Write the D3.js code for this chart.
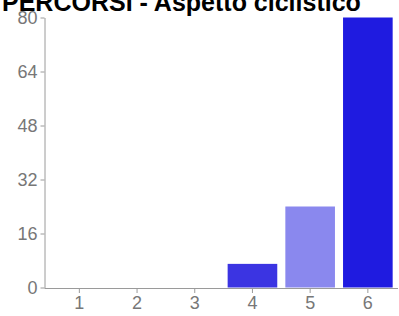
<!DOCTYPE html>
<html><head><meta charset="utf-8">
<script src="https://cdn.jsdelivr.net/npm/d3@7"></script>
<style>body{margin:0;background:#fff}svg{display:block}</style>
</head><body>
<script>
const categories = ["1","2","3","4","5","6"];
const values = [0,0,0,7,24,80];
const colors = ["#3b34e2","#3b34e2","#3b34e2","#3b34e2","#8a88ee","#1f1be0"];
const yTicks = [0,16,32,48,64,80];
const title = "PERCORSI - Aspetto ciclistico";

const W=399,H=316;
const svg=d3.select("body").append("svg").attr("width",W).attr("height",H);
const x=d3.scaleBand().domain(categories).range([50.5,396.7]).paddingInner(0.14).paddingOuter(0.07);
const y=d3.scaleLinear().domain([0,80]).range([287.5,17.5]);

svg.append("text").attr("x",2).attr("y",11).attr("font-family","Liberation Sans, Arial, sans-serif")
  .attr("font-weight","bold").attr("font-size",25).attr("fill","#000").text(title);

svg.selectAll("rect.bar").data(values).enter().append("rect").attr("class","bar")
  .attr("x",(d,i)=>x(categories[i])).attr("width",x.bandwidth())
  .attr("y",d=>y(d)).attr("height",d=>y(0)-y(d))
  .attr("fill",(d,i)=>colors[i]);

const axisColor="#9a9a9a", textColor="#777";
const ya=svg.append("g").attr("transform","translate(44.5,0)")
  .call(d3.axisLeft(y).tickValues(yTicks).tickSize(4).tickSizeOuter(0).tickPadding(3));
ya.select(".domain").attr("stroke",axisColor);
ya.selectAll(".tick line").attr("stroke",axisColor);
ya.selectAll("text").attr("fill",textColor).attr("font-size",18).attr("font-family","Liberation Sans, Arial, sans-serif");

const xa=svg.append("g").attr("transform","translate(0,288)")
  .call(d3.axisBottom(x).tickSize(5).tickSizeOuter(0).tickPadding(3));
xa.select(".domain").remove();
xa.append("line").attr("x1",44.5).attr("x2",398).attr("y1",0.5).attr("y2",0.5).attr("stroke",axisColor);
xa.selectAll(".tick line").attr("stroke",axisColor);
xa.selectAll("text").attr("fill",textColor).attr("font-size",18).attr("font-family","Liberation Sans, Arial, sans-serif");
</script>
</body></html>
